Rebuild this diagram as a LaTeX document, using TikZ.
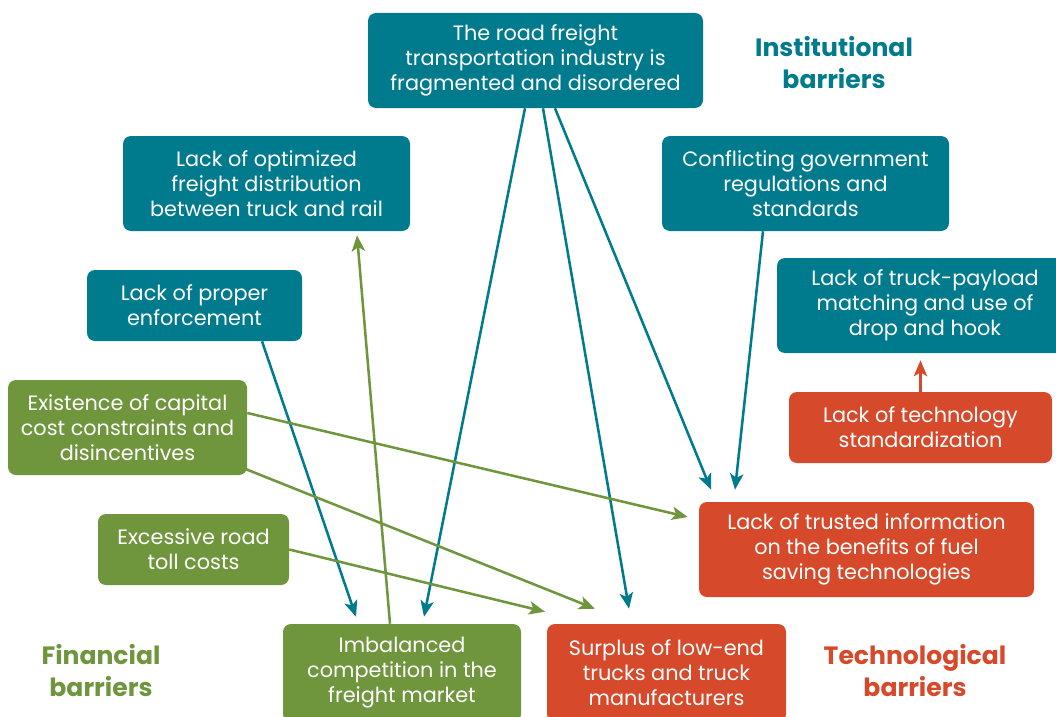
\documentclass[tikz,border=0pt]{standalone}
\usepackage{fontspec}
\setmainfont{Poppins}
\usetikzlibrary{arrows.meta,calc}
\definecolor{instc}{HTML}{007B8E}
\definecolor{finc}{HTML}{6F963D}
\definecolor{techc}{HTML}{D64A2B}
\begin{document}
\begin{tikzpicture}[x=0.75pt,y=-0.75pt,
  box/.style={rounded corners=6pt, text=white, align=center, inner sep=0pt,
    font=\fontsize{15.6}{18.75}\selectfont},
  inst/.style={box, fill=instc},
  fin/.style={box, fill=finc},
  tech/.style={box, fill=techc},
  group/.style={align=center, font=\fontsize{18.8}{24}\selectfont\bfseries},
  link/.style={line width=1.9pt, -{Stealth[length=12pt,width=10pt,inset=3pt]}},
]
\useasboundingbox (0,0) rectangle (1056,717);
\clip (0,0) rectangle (1056,717);

% barrier boxes
\node[inst, minimum width=335*0.75pt, minimum height=95*0.75pt] (road) at (535.5,60.5)
  {The road freight\\transportation industry is\\fragmented and disordered};
\node[inst, minimum width=287*0.75pt, minimum height=95*0.75pt] (rail) at (266.5,183.5)
  {Lack of optimized\\freight distribution\\between truck and rail};
\node[inst, minimum width=287*0.75pt, minimum height=95*0.75pt] (gov) at (805.5,183.5)
  {Conflicting government\\regulations and\\standards};
\node[inst, minimum width=296*0.75pt, minimum height=95*0.75pt] (payload) at (925,305.5)
  {Lack of truck-payload\\matching and use of\\drop and hook};
\node[inst, minimum width=215*0.75pt, minimum height=71*0.75pt] (enf) at (194.5,305.5)
  {Lack of proper\\enforcement};
\node[tech, minimum width=263*0.75pt, minimum height=71*0.75pt] (std) at (920.5,427.5)
  {Lack of technology\\standardization};
\node[fin, minimum width=239*0.75pt, minimum height=95*0.75pt] (capital) at (127.5,427.5)
  {Existence of capital\\cost constraints and\\disincentives};
\node[fin, minimum width=191*0.75pt, minimum height=71*0.75pt] (toll) at (193.5,549.5)
  {Excessive road\\toll costs};
\node[tech, minimum width=335*0.75pt, minimum height=95*0.75pt] (info) at (866.5,549.5)
  {Lack of trusted information\\on the benefits of fuel\\saving technologies};
\node[fin, minimum width=238*0.75pt, minimum height=98*0.75pt] (market) at (402,673)
  {Imbalanced\\competition in the\\freight market};
\node[tech, minimum width=239*0.75pt, minimum height=98*0.75pt] (surplus) at (666.5,673)
  {Surplus of low-end\\trucks and truck\\manufacturers};

% group headings
\node[group, text=instc] (hinst) at (834,63) {Institutional\\barriers};
\node[group, text=finc] (hfin) at (101,671) {Financial\\barriers};
\node[group, text=techc] (htech) at (915,671) {Technological\\barriers};

% institutional links
\draw[link, instc] ($(road.south)+(-10.5,0)$) -- ($(market.north)+(22,-7)$);
\draw[link, instc] ($(road.south)+(7.5,0)$) -- ($(surplus.north)+(-37.5,-15)$);
\draw[link, instc] ($(road.south)+(19.5,0)$) -- ($(info.north)+(-155.5,-12)$);
\draw[link, instc] ($(gov.south)+(-42.5,0)$) -- ($(info.north)+(-131.5,-12)$);
\draw[link, instc] ($(enf.south)+(67.5,0)$) -- ($(market.north)+(-46,-7)$);

% financial links
\draw[link, finc] ($(market.north)+(-12,0)$) -- ($(rail.south)+(90.5,4)$);
\draw[link, finc] ($(capital.east)+(0,-14.5)$) -- ($(info.west)+(-11,-32.5)$);
\draw[link, finc] ($(capital.east)+(-3,41)$) -- ($(surplus.north)+(-71.5,-15)$);
\draw[link, finc] ($(toll.east)+(0,0)$) -- ($(surplus.north)+(-121.5,-12)$);

% technological link
\draw[link, techc] (std.north) -- ($(payload.south)+(-4.5,7)$);
\end{tikzpicture}
\end{document}
